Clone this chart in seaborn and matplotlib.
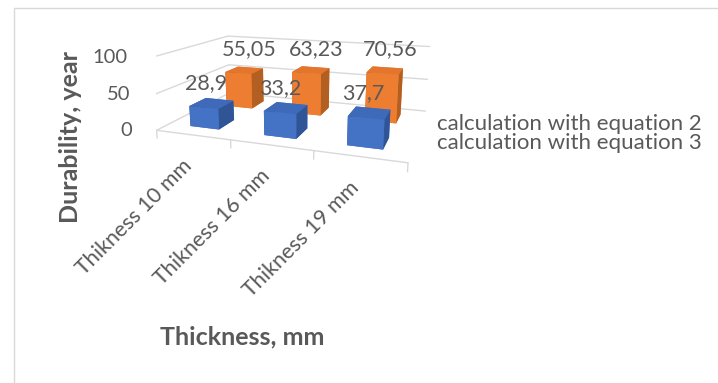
import matplotlib
matplotlib.use("Agg")
import matplotlib.pyplot as plt
import numpy as np
import pandas as pd
import seaborn as sns
from matplotlib.patches import Rectangle
from mpl_toolkits.mplot3d import proj3d

# Durability estimates per panel thickness
categories = ["Thikness 10 mm", "Thikness 16 mm", "Thikness 19 mm"]
series_names = ["calculation with equation 2", "calculation with equation 3"]
eq2_values = [28.9, 33.2, 37.7]
eq3_values = [55.05, 63.23, 70.56]
value_ticks = [0, 50, 100]

df = pd.DataFrame({
    "category": categories * 2,
    "series": [series_names[0]] * len(categories) + [series_names[1]] * len(categories),
    "value": eq2_values + eq3_values,
})

sns.set_theme(style="white")
plt.rcParams["font.family"] = ["Lato", "DejaVu Sans"]
palette = sns.color_palette(["#4472C4", "#ED7D31"])
# face shades per series: (top, front, side)
face_shades = {
    series_names[0]: ("#3E6AB9", "#4472C4", "#2F5597"),
    series_names[1]: ("#E3752C", "#ED7D31", "#B45F22"),
}
# label nudges per series, in pixels
label_nudge = {series_names[0]: (-6, 20), series_names[1]: (5, 21)}
text_color = "#595959"
grid_color = "#d9d9d9"

fig = plt.figure(figsize=(7.18, 3.83), dpi=100)
fig.patches.append(Rectangle((13.5 / 718, -0.1), 2.0, 1.1 - 7.5 / 383,
                             transform=fig.transFigure, fill=False,
                             edgecolor=grid_color, lw=1.0))

ax = fig.add_axes([0.1376, 0.3988, 0.5484, 0.7311], projection="3d",
                  computed_zorder=False)
n = len(categories)
ax.set_xlim(0, n)
ax.set_ylim(0, 2)
ax.set_zlim(0, 100)
ax.set_proj_type("persp", focal_length=0.317)
ax.view_init(elev=13.92, azim=-70.58)
ax.set_box_aspect((3.0, 1.909, 0.896))
ax.set_axis_off()

# walls: gridlines on the back and left walls
for t in value_ticks:
    ax.plot([0, n], [2, 2], [t, t], color=grid_color, lw=1.0, zorder=1)
    ax.plot([0, 0], [0, 2], [t, t], color=grid_color, lw=1.0, zorder=1)
# floor front edge with category separators
ax.plot([0, n], [0, 0], [0, 0], color=grid_color, lw=1.0, zorder=6)
for ci in range(n + 1):
    ax.plot([ci, ci], [0, 0], [0, -11], color=grid_color, lw=1.0, zorder=6)

bw = 0.4
bd = 0.4 * (3.0 / n) / (1.909 / 2)
for si, name in enumerate(series_names):
    top, front, side = face_shades[name]
    sub = df[df["series"] == name]
    for ci, val in enumerate(sub["value"]):
        ax.bar3d(ci + 0.5 - bw / 2, si + 0.5 - bd / 2, 0, bw, bd, val,
                 color=[top, top, front, front, side, side], shade=False,
                 linewidth=0, zorder=4 - si * 2)

fig.canvas.draw()
M = ax.get_proj()


def to2d(x, y, z):
    u, v, _ = proj3d.proj_transform(x, y, z, M)
    return float(u), float(v)


for si, name in enumerate(series_names):
    sub = df[df["series"] == name]
    for ci, val in enumerate(sub["value"]):
        label = f"{val:g}".replace(".", ",")
        ax.annotate(label, to2d(ci + 0.5, si + 0.5, val),
                    xytext=label_nudge[name], textcoords="offset pixels",
                    color=text_color, fontsize=15.5, ha="center",
                    va="center", zorder=8, annotation_clip=False)

for t in value_ticks:
    ax.annotate(f"{t}", to2d(0, 0, t), xytext=(-24, 0),
                textcoords="offset pixels", color=text_color, fontsize=14.5,
                ha="right", va="center", annotation_clip=False)

for ci, cat in enumerate(categories):
    ax.annotate(cat, to2d(ci + 0.5, 0, 0), xytext=(-4, -28),
                textcoords="offset pixels", color=text_color, fontsize=15.5,
                rotation=45, ha="right", va="center",
                rotation_mode="anchor", annotation_clip=False)

fig.text(71 / 718, 1 - 137 / 383, "Durability, year", rotation=90,
         fontsize=18, fontweight="bold", color=text_color,
         ha="center", va="center")
fig.text(242 / 718, 1 - 337 / 383, "Thickness, mm", fontsize=18,
         fontweight="bold", color=text_color, ha="center", va="center")
for i, name in enumerate(series_names):
    fig.text(437 / 718, 1 - (124 + 19 * i) / 383, name, fontsize=16,
             color=text_color, ha="left", va="center")

fig.savefig("out.png", dpi=100)
